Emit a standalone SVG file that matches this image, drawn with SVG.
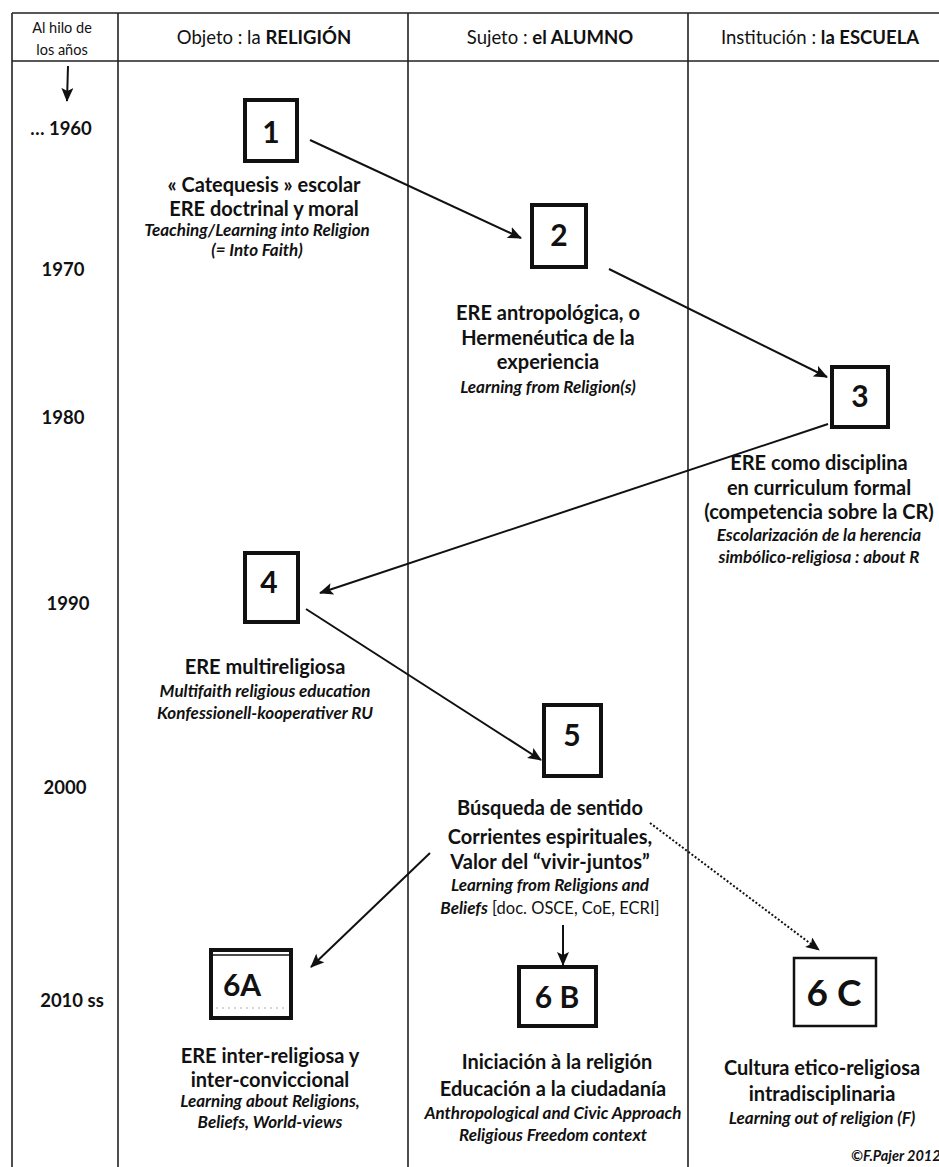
<svg xmlns="http://www.w3.org/2000/svg" width="939" height="1167" viewBox="0 0 939 1167">
<style>
text{font-family:Lato,"Open Sans","Liberation Sans",sans-serif;fill:#111;text-anchor:middle}
.hd{font-size:18.5px}
.hd2{font-size:14.5px}
.b{font-weight:bold}
.yr{font-size:18.5px;font-weight:bold}
.t{font-size:20px;font-weight:bold}
.i{font-size:17px;font-style:italic;font-weight:bold}
.n{font-size:30px;font-weight:bold}
.grid{stroke:#222;stroke-width:1.6;fill:none}
.box{fill:#fff;stroke:#111;stroke-width:4}
.con{stroke:#111;stroke-width:2;fill:none}
</style>
<defs>
<marker id="ah" markerWidth="14" markerHeight="12" refX="13" refY="6" orient="auto" markerUnits="userSpaceOnUse">
<path d="M0,0 L14,6 L0,12 L3,6 Z" fill="#111"/>
</marker>
</defs>
<rect width="939" height="1167" fill="#fff"/>
<g id="table">
<path class="grid" d="M12,13 H939 M12,61 H939 M12,13 V1167 M118,13 V1167 M408,13 V1167 M688,13 V1167"/>
<text class="hd2" x="62" y="33">Al hilo de</text>
<text class="hd2" x="62" y="55">los años</text>
<text class="hd" x="264" y="44">Objeto : la <tspan class="b">RELIGIÓN</tspan></text>
<text class="hd" x="550" y="44">Sujeto : <tspan class="b">el ALUMNO</tspan></text>
<text class="hd" x="820" y="44">Institución : <tspan class="b">la ESCUELA</tspan></text>
<line x1="68" y1="66" x2="67" y2="101" stroke="#111" stroke-width="2" marker-end="url(#ah)"/>
<text class="yr" x="61" y="135">… 1960</text>
<text class="yr" x="63" y="276">1970</text>
<text class="yr" x="63" y="424">1980</text>
<text class="yr" x="68" y="610">1990</text>
<text class="yr" x="65" y="794">2000</text>
<text class="yr" x="72" y="1007">2010 ss</text>
</g>
<g id="connectors">
<line class="con" x1="310" y1="140" x2="521" y2="238" marker-end="url(#ah)"/>
<line class="con" x1="609" y1="269" x2="827" y2="377" marker-end="url(#ah)"/>
<line class="con" x1="828" y1="424" x2="320" y2="593" marker-end="url(#ah)"/>
<line class="con" x1="306" y1="609" x2="541" y2="760" marker-end="url(#ah)"/>
<line class="con" x1="430" y1="853" x2="311" y2="967" stroke-width="2.5" marker-end="url(#ah)"/>
<line class="con" x1="563" y1="925" x2="563" y2="965" stroke-width="2.5" marker-end="url(#ah)"/>
<line class="con" x1="650" y1="823" x2="819" y2="950" stroke-dasharray="2,2" stroke-width="1.8" marker-end="url(#ah)"/>
</g>
<g id="node1">
<rect class="box" x="245" y="100" width="52" height="61"/>
<text class="n" x="271" y="143">1</text>
<text class="t" x="264" y="192">« Catequesis » escolar</text>
<text class="t" x="264" y="216">ERE doctrinal y moral</text>
<text class="i" x="257" y="236">Teaching/Learning into Religion</text>
<text class="i" x="257" y="256">(= Into Faith)</text>
</g>
<g id="node2">
<rect class="box" x="532" y="205" width="54" height="62"/>
<text class="n" x="559" y="246">2</text>
<text class="t" x="548" y="320">ERE antropológica, o</text>
<text class="t" x="548" y="345">Hermenéutica de la</text>
<text class="t" x="548" y="369">experiencia</text>
<text class="i" x="548" y="393">Learning from Religion(s)</text>
</g>
<g id="node3">
<rect class="box" x="832" y="367" width="56" height="60"/>
<text class="n" x="860" y="407">3</text>
<text class="t" x="819" y="470">ERE como disciplina</text>
<text class="t" x="819" y="495">en curriculum formal</text>
<text class="t" x="819" y="519">(competencia sobre la CR)</text>
<text class="i" x="819" y="541">Escolarización de la herencia</text>
<text class="i" x="819" y="563">simbólico-religiosa : about R</text>
</g>
<g id="node4">
<rect class="box" x="245" y="553" width="53" height="69"/>
<text class="n" x="269" y="593">4</text>
<text class="t" x="265" y="674">ERE multireligiosa</text>
<text class="i" x="265" y="697">Multifaith religious education</text>
<text class="i" x="265" y="719">Konfessionell-kooperativer RU</text>
</g>
<g id="node5">
<rect class="box" x="544" y="705" width="57" height="71"/>
<text class="n" x="572" y="746">5</text>
<text class="t" x="550" y="815">Búsqueda de sentido</text>
<text class="t" x="550" y="844">Corrientes espirituales,</text>
<text class="t" x="550" y="869">Valor del “vivir-juntos”</text>
<text class="i" x="550" y="891">Learning from Religions and</text>
<text class="i" x="550" y="914"><tspan>Beliefs</tspan><tspan font-style="normal" font-weight="normal" font-size="16.5"> [doc. OSCE, CoE, ECRI]</tspan></text>
</g>
<g id="node6A">
<rect class="box" x="211" y="950" width="80" height="68"/>
<line x1="211" y1="955" x2="291" y2="955" stroke="#111" stroke-width="1.5"/>
<line x1="216" y1="1008" x2="286" y2="1008" stroke="#999" stroke-width="0.8" stroke-dasharray="2,4"/>
<text class="n" x="242" y="996">6A</text>
<text class="t" x="270" y="1063">ERE inter-religiosa y</text>
<text class="t" x="270" y="1087">inter-conviccional</text>
<text class="i" x="270" y="1107">Learning about Religions,</text>
<text class="i" x="270" y="1128">Beliefs, World-views</text>
</g>
<g id="node6B">
<rect class="box" x="519" y="967" width="77" height="59"/>
<text class="n" x="557" y="1008">6 B</text>
<text class="t" x="557" y="1069">Iniciación à la religión</text>
<text class="t" x="553" y="1096">Educación a la ciudadanía</text>
<text class="i" x="553" y="1119">Anthropological and Civic Approach</text>
<text class="i" x="553" y="1141">Religious Freedom context</text>
</g>
<g id="node6C">
<rect x="794" y="958" width="82" height="68" fill="#fff" stroke="#111" stroke-width="2.5"/>
<text x="834" y="1006" font-size="37" font-weight="bold">6 C</text>
<text class="t" x="822" y="1075">Cultura etico-religiosa</text>
<text class="t" x="822" y="1101">intradisciplinaria</text>
<text class="i" x="822" y="1124">Learning out of religion (F)</text>
<text x="851" y="1161" font-size="14.5" font-style="italic" font-weight="bold" style="text-anchor:start">©F.Pajer 2012</text>
</g>
</svg>
